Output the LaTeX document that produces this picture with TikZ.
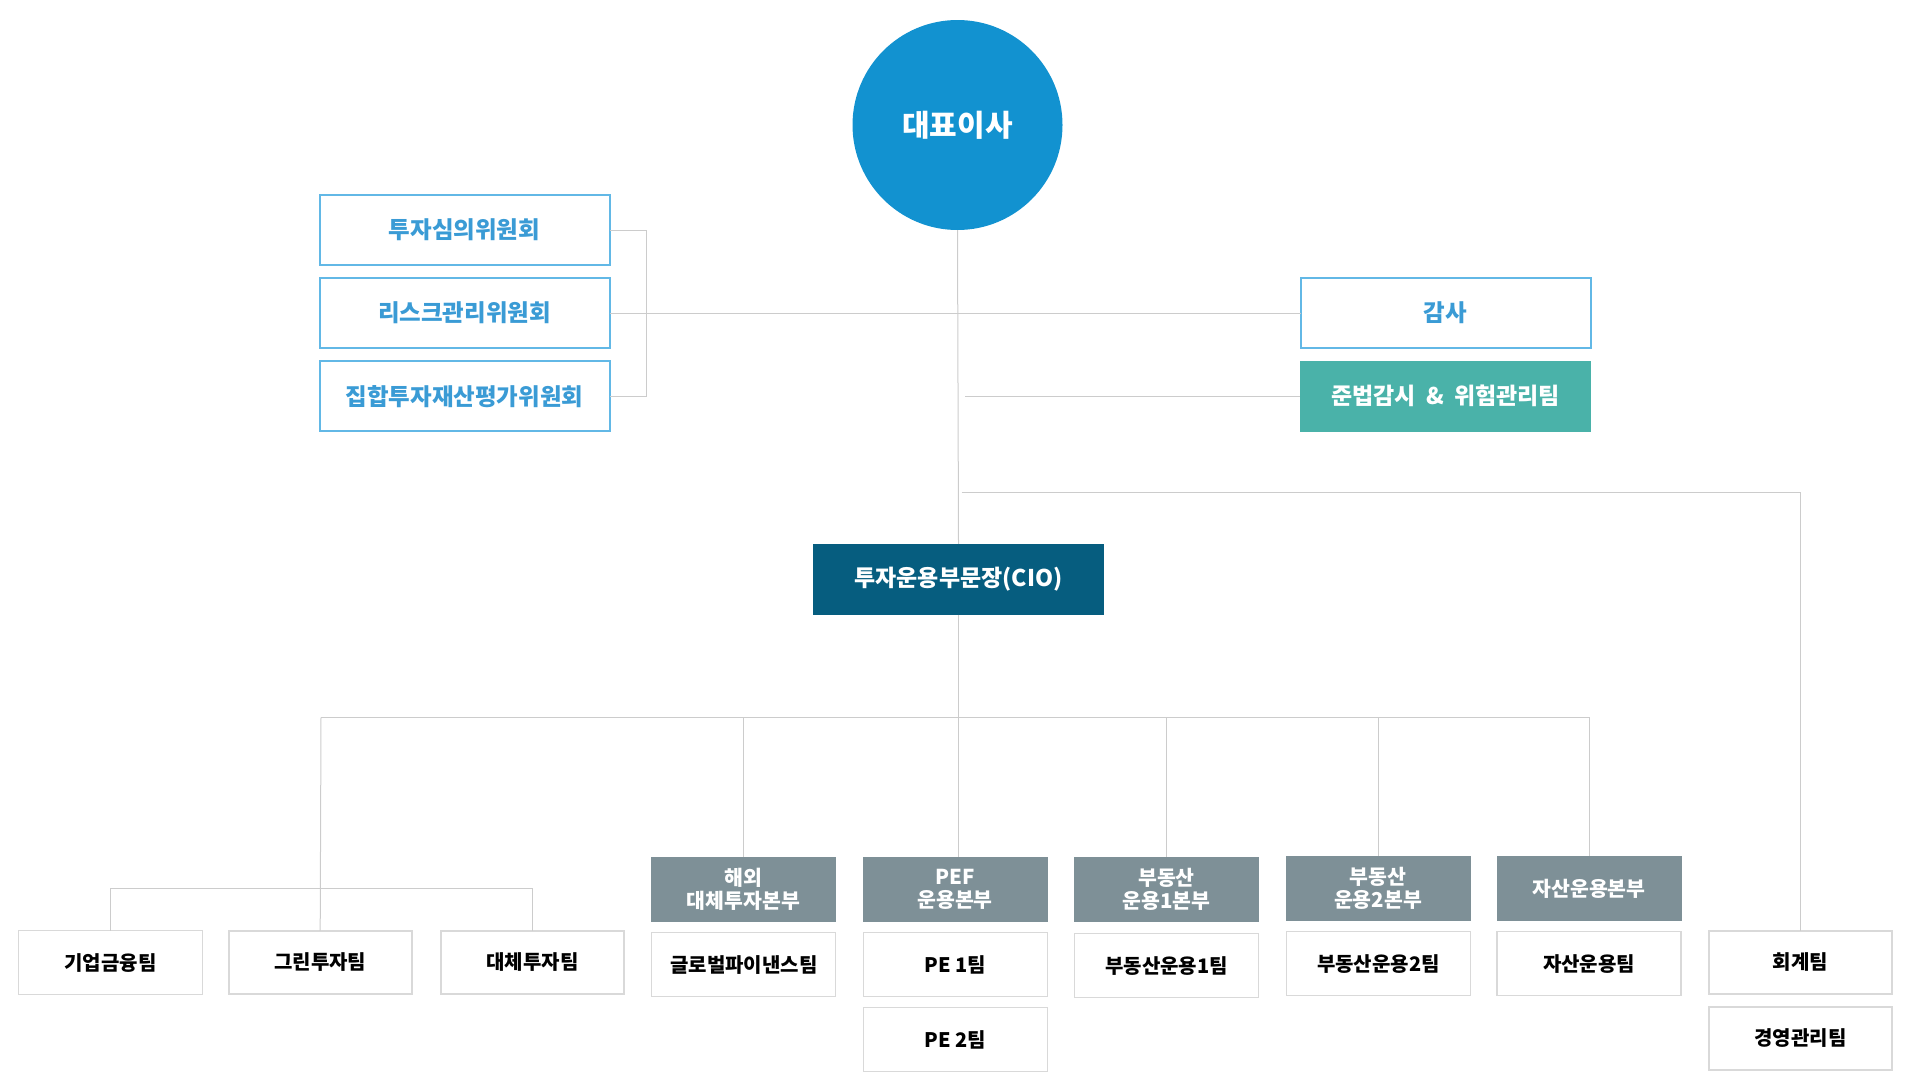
\documentclass[tikz,border=0pt]{standalone}
\usepackage{fontspec}
\setmainfont{Noto Sans CJK KR}
\definecolor{ceoblue}{RGB}{18,146,208}
\definecolor{comline}{RGB}{98,184,230}
\definecolor{comtext}{RGB}{58,155,213}
\definecolor{compgreen}{RGB}{74,178,169}
\definecolor{cionavy}{RGB}{6,93,127}
\definecolor{divgrey}{RGB}{126,144,151}
\definecolor{teamline}{RGB}{217,217,217}
\definecolor{linkgrey}{RGB}{204,204,204}
\begin{document}
\begin{tikzpicture}[x=1pt,y=1pt]
		\tikzstyle{every node}+=[inner sep=0pt, outer sep=0pt]
		\tikzstyle{committee}=[draw=comline, line width=2pt, text=comtext, minimum width=290pt, minimum height=70pt, font=\bfseries\fontsize{23.5}{27}\selectfont]
		\tikzstyle{cioblock}=[minimum width=291pt, minimum height=71pt, text=white, font=\bfseries\fontsize{23}{27}\selectfont]
		\tikzstyle{division}=[fill=divgrey, minimum width=185pt, minimum height=65pt, text=white, align=center, font=\bfseries\fontsize{20.5}{23}\selectfont]
		\tikzstyle{team}=[draw=teamline, line width=1.2pt, minimum width=184pt, minimum height=64pt, font=\bfseries\fontsize{20}{24}\selectfont]
		\tikzstyle{teamthick}=[team, line width=2.2pt, minimum width=183pt, minimum height=63pt]
		\tikzstyle{link}=[draw=linkgrey, line width=1pt]
		\useasboundingbox (0,0) rectangle (1919,-1079);
		% top
		\node [circle, fill=ceoblue, minimum size=210pt, text=white, font=\bfseries\fontsize{30}{34}\selectfont] (ceo) at (957.5,-125) {대표이사};
		\node [committee] (com1) at (464.5,-230) {투자심의위원회};
		\node [committee] (com2) at (464.5,-313) {리스크관리위원회};
		\node [committee] (com3) at (464.5,-396.3) {집합투자재산평가위원회};
		\node [committee] (audit) at (1445.5,-313) {감사};
		\node [cioblock, fill=compgreen] (comp) at (1445.5,-396.3) {준법감시\hspace{0.45em}\&\hspace{0.45em}위험관리팀};
		\node [cioblock, fill=cionavy] (cio) at (958.5,-579.3) {투자운용부문장(CIO)};
		% divisions
		\node [division] (ovs) at (743.5,-889.2) {해외\\대체투자본부};
		\node [division] (pef) at (955,-889.2) {PEF\\운용본부};
		\node [division] (re1) at (1166.5,-889.2) {부동산\\운용1본부};
		\node [division] (re2) at (1378,-888.5) {부동산\\운용2본부};
		\node [division] (ast) at (1589,-888.5) {자산운용본부};
		% teams
		\node [team] (corp) at (110.5,-962.6) {기업금융팀};
		\node [teamthick] (green) at (320.2,-962.2) {그린투자팀};
		\node [teamthick] (alt) at (532.5,-962.2) {대체투자팀};
		\node [team] (glob) at (743.8,-964.8) {글로벌파이낸스팀};
		\node [team] (pe1) at (955.3,-964.8) {PE 1팀};
		\node [team] (pe2) at (955.3,-1039.8) {PE 2팀};
		\node [team] (ret1) at (1166.5,-965.8) {부동산운용1팀};
		\node [team] (ret2) at (1378.3,-963.7) {부동산운용2팀};
		\node [team] (astt) at (1589,-963.7) {자산운용팀};
		\node [teamthick] (acc) at (1800.5,-962.3) {회계팀};
		\node [teamthick] (mgmt) at (1800.5,-1038.3) {경영관리팀};
		% junctions
		\coordinate (combr) at (646.7,-230);
		\coordinate (compl) at (965,-396.3);
		\coordinate (accl) at (961.7,-492.3);
		\coordinate (busl) at (321,-717.3);
		\coordinate (teambus) at (321,-888.3);
		% links
		\draw [link] (ceo.south) -- (cio.north);
		\draw [link] (com1.east) -- (combr) |- (com3.east);
		\draw [link] (com2.east) -- (audit.west);
		\draw [link] (compl) -- (comp.west);
		\draw [link] (accl) -| (acc.north);
		\draw [link] (cio.south) -- (cio.south |- pef.north);
		\draw [link] (busl) -| (ast.north);
		\draw [link] (busl) -- (green.north);
		\draw [link] (corp.north) |- (teambus) -| (alt.north);
		\draw [link] (ovs.north) -- (ovs.north |- busl);
		\draw [link] (re1.north) -- (re1.north |- busl);
		\draw [link] (re2.north) -- (re2.north |- busl);
\end{tikzpicture}
\end{document}
